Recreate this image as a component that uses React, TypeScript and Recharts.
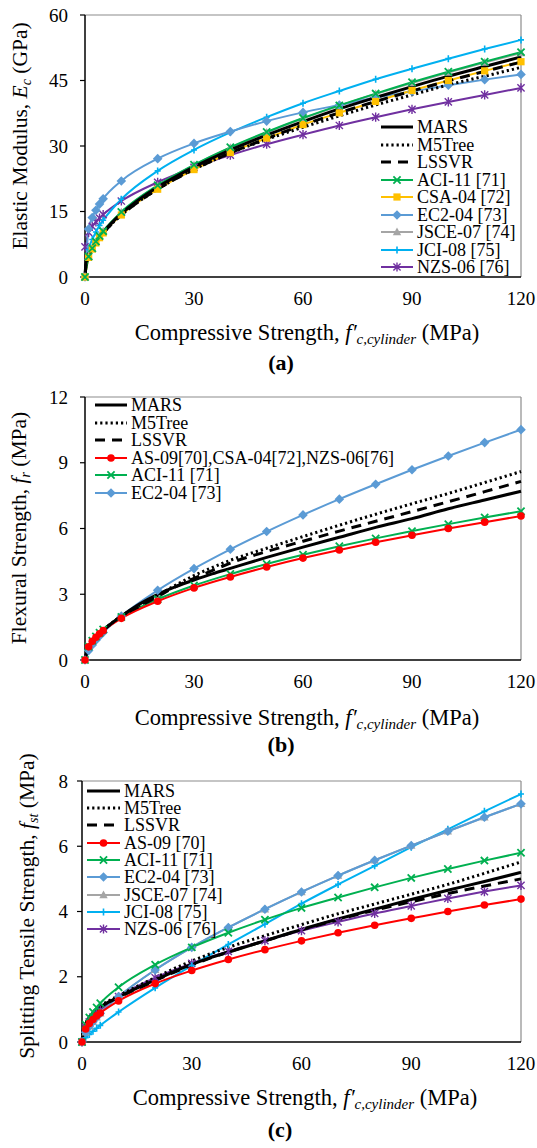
import React from "react";
import { LineChart, Line, XAxis, YAxis, ReferenceLine, Label } from "recharts";

const SERIF = '"Liberation Serif", "Times New Roman", Times, serif';

// compressive strength points (MPa)
const fcCode = [0, 1, 2, 3, 4, 5, 10, 20, 30, 40, 50, 60, 70, 80, 90, 100, 110, 120];
const fcModel = [0, 0.25, 0.5, 1, 2, 3, 5, 7.5, 10, 15, 20, 25, 30, 35, 40, 50, 60, 70, 80, 90, 100, 110, 120];
const xTicks = [0, 30, 60, 90, 120];

// (a) elastic modulus, GPa
const ecTicks = [0, 15, 30, 45, 60];
const ecMARS = [0, 3.2, 4.2, 5.3, 6.9, 8.1, 10.2, 12.5, 14.5, 17.8, 20.6, 23.0, 25.2, 27.2, 29.1, 32.5, 35.6, 38.5, 41.1, 43.6, 46.0, 48.2, 50.4];
const ecM5Tree = [0, 2.6, 3.6, 4.8, 6.5, 7.8, 10.0, 12.3, 14.2, 17.4, 20.1, 22.6, 24.7, 26.6, 28.4, 31.5, 34.3, 36.9, 39.4, 41.7, 44.0, 46.0, 48.0];
const ecLSSVR = [0, 2.5, 3.5, 4.7, 6.4, 7.8, 10.0, 12.3, 14.2, 17.4, 20.1, 22.5, 24.6, 26.6, 28.4, 31.7, 34.8, 37.6, 40.2, 42.6, 44.9, 47.1, 49.2];
const ecACI = [0, 4.7, 6.6, 8.1, 9.4, 10.5, 14.9, 21.0, 25.7, 29.7, 33.2, 36.4, 39.3, 42.0, 44.6, 47.0, 49.3, 51.5];
const ecCSA = [0, 4.5, 6.4, 7.8, 9.0, 10.1, 14.2, 20.1, 24.6, 28.5, 31.8, 34.9, 37.6, 40.2, 42.7, 45.0, 47.2, 49.3];
const ecEC2 = [0, 11.0, 13.6, 15.3, 16.7, 17.9, 22.0, 27.1, 30.6, 33.3, 35.7, 37.7, 39.4, 41.1, 42.5, 43.9, 45.2, 46.4];
const ecJSCE = [0, 4.7, 6.6, 8.1, 9.4, 10.5, 14.8, 20.9, 25.6, 29.6, 33.1, 36.3, 39.2, 41.9, 44.4, 46.8, 49.1, 51.3];
const ecJCI = [0, 6.3, 8.6, 10.3, 11.8, 13.0, 17.8, 24.3, 29.1, 33.1, 36.6, 39.8, 42.6, 45.3, 47.7, 50.0, 52.2, 54.3];
const ecNZS = [6.9, 10.2, 11.6, 12.6, 13.5, 14.3, 17.4, 21.7, 25.1, 27.9, 30.4, 32.6, 34.7, 36.6, 38.4, 40.1, 41.7, 43.3];

// (b) flexural strength, MPa
const frTicks = [0, 3, 6, 9, 12];
const frMARS = [0, 0.2, 0.33, 0.5, 0.78, 1.0, 1.35, 1.7, 2.0, 2.55, 3.0, 3.35, 3.65, 3.93, 4.18, 4.68, 5.15, 5.6, 6.05, 6.45, 6.9, 7.3, 7.7];
const frM5Tree = [0, 0.2, 0.33, 0.5, 0.78, 1.0, 1.35, 1.7, 2.0, 2.5, 2.95, 3.42, 3.85, 4.22, 4.55, 5.1, 5.63, 6.15, 6.65, 7.13, 7.6, 8.1, 8.6];
const frLSSVR = [0, 0.2, 0.33, 0.5, 0.78, 1.0, 1.35, 1.7, 2.0, 2.45, 2.9, 3.35, 3.72, 4.08, 4.42, 4.95, 5.42, 5.88, 6.33, 6.77, 7.22, 7.68, 8.15];
const frAS = [0, 0.6, 0.85, 1.04, 1.2, 1.34, 1.9, 2.68, 3.29, 3.79, 4.24, 4.65, 5.02, 5.37, 5.69, 6.0, 6.29, 6.57];
const frACI = [0, 0.62, 0.88, 1.07, 1.24, 1.39, 1.96, 2.77, 3.4, 3.92, 4.38, 4.8, 5.19, 5.55, 5.88, 6.2, 6.5, 6.79];
const frEC2 = [0, 0.43, 0.69, 0.9, 1.09, 1.26, 2.0, 3.18, 4.17, 5.05, 5.86, 6.62, 7.34, 8.02, 8.68, 9.31, 9.92, 10.51];

// (c) splitting tensile strength, MPa
const fstTicks = [0, 2, 4, 6, 8];
const fstMARS = [0, 0.28, 0.4, 0.55, 0.75, 0.88, 1.07, 1.24, 1.38, 1.65, 1.9, 2.15, 2.38, 2.58, 2.75, 3.1, 3.45, 3.77, 4.07, 4.37, 4.65, 4.92, 5.2];
const fstM5Tree = [0, 0.3, 0.42, 0.57, 0.77, 0.9, 1.1, 1.27, 1.42, 1.7, 1.97, 2.24, 2.48, 2.7, 2.9, 3.26, 3.6, 3.93, 4.23, 4.53, 4.83, 5.17, 5.52];
const fstLSSVR = [0, 0.27, 0.4, 0.55, 0.75, 0.88, 1.06, 1.23, 1.37, 1.63, 1.88, 2.13, 2.36, 2.57, 2.76, 3.1, 3.44, 3.75, 4.04, 4.3, 4.55, 4.78, 5.0];
const fstAS = [0, 0.4, 0.57, 0.69, 0.8, 0.89, 1.26, 1.79, 2.19, 2.53, 2.83, 3.1, 3.35, 3.58, 3.79, 4.0, 4.2, 4.38];
const fstACI = [0, 0.53, 0.75, 0.92, 1.06, 1.19, 1.68, 2.37, 2.9, 3.35, 3.75, 4.11, 4.43, 4.74, 5.03, 5.3, 5.56, 5.8];
const fstEC2 = [0, 0.3, 0.48, 0.62, 0.76, 0.88, 1.39, 2.21, 2.9, 3.51, 4.07, 4.6, 5.1, 5.57, 6.02, 6.46, 6.89, 7.3];
const fstJSCE = [0, 0.3, 0.48, 0.62, 0.76, 0.88, 1.39, 2.21, 2.9, 3.51, 4.07, 4.6, 5.1, 5.57, 6.02, 6.46, 6.89, 7.3];
const fstJCI = [0, 0.13, 0.23, 0.33, 0.42, 0.51, 0.92, 1.66, 2.34, 2.99, 3.61, 4.24, 4.83, 5.4, 5.97, 6.52, 7.07, 7.6];
const fstNZS = [0, 0.44, 0.62, 0.76, 0.88, 0.98, 1.39, 1.97, 2.41, 2.78, 3.11, 3.41, 3.68, 3.94, 4.17, 4.4, 4.61, 4.8];

type Shape = "x" | "square" | "diamond" | "triangle" | "plus" | "star" | "circle";
type Series = { name: string; xs: number[]; ys: number[]; color: string; shape?: Shape; dash?: string; width: number };

const GREEN = "#00B050";
const YELLOW = "#FFC000";
const BLUE = "#5B9BD5";
const GREY = "#A5A5A5";
const CYAN = "#00B0F0";
const PURPLE = "#7030A0";
const RED = "#FF0000";

const models = (mars: number[], m5: number[], ls: number[]): Series[] => [
  { name: "MARS", xs: fcModel, ys: mars, color: "#000", width: 3 },
  { name: "M5Tree", xs: fcModel, ys: m5, color: "#000", width: 3, dash: "2.2 3" },
  { name: "LSSVR", xs: fcModel, ys: ls, color: "#000", width: 3, dash: "10 7" },
];

const seriesA: Series[] = [
  ...models(ecMARS, ecM5Tree, ecLSSVR),
  { name: "ACI-11 [71]", xs: fcCode, ys: ecACI, color: GREEN, shape: "x", width: 2 },
  { name: "CSA-04 [72]", xs: fcCode, ys: ecCSA, color: YELLOW, shape: "square", width: 2 },
  { name: "EC2-04 [73]", xs: fcCode, ys: ecEC2, color: BLUE, shape: "diamond", width: 2 },
  { name: "JSCE-07 [74]", xs: fcCode, ys: ecJSCE, color: GREY, shape: "triangle", width: 2 },
  { name: "JCI-08 [75]", xs: fcCode, ys: ecJCI, color: CYAN, shape: "plus", width: 2 },
  { name: "NZS-06 [76]", xs: fcCode, ys: ecNZS, color: PURPLE, shape: "star", width: 2 },
];

const seriesB: Series[] = [
  ...models(frMARS, frM5Tree, frLSSVR),
  { name: "AS-09[70],CSA-04[72],NZS-06[76]", xs: fcCode, ys: frAS, color: RED, shape: "circle", width: 2 },
  { name: "ACI-11 [71]", xs: fcCode, ys: frACI, color: GREEN, shape: "x", width: 2 },
  { name: "EC2-04 [73]", xs: fcCode, ys: frEC2, color: BLUE, shape: "diamond", width: 2 },
];

const seriesC: Series[] = [
  ...models(fstMARS, fstM5Tree, fstLSSVR),
  { name: "AS-09 [70]", xs: fcCode, ys: fstAS, color: RED, shape: "circle", width: 2 },
  { name: "ACI-11 [71]", xs: fcCode, ys: fstACI, color: GREEN, shape: "x", width: 2 },
  { name: "EC2-04 [73]", xs: fcCode, ys: fstEC2, color: BLUE, shape: "diamond", width: 2 },
  { name: "JSCE-07 [74]", xs: fcCode, ys: fstJSCE, color: GREY, shape: "triangle", width: 2 },
  { name: "JCI-08 [75]", xs: fcCode, ys: fstJCI, color: CYAN, shape: "plus", width: 2 },
  { name: "NZS-06 [76]", xs: fcCode, ys: fstNZS, color: PURPLE, shape: "star", width: 2 },
];

function Marker({ shape, cx, cy, color }: { shape: Shape; cx: number; cy: number; color: string }) {
  const s = 3.6;
  switch (shape) {
    case "square":
      return <rect x={cx - s} y={cy - s} width={2 * s} height={2 * s} fill={color} />;
    case "diamond":
      return <polygon points={`${cx},${cy - 4.8} ${cx + 4.8},${cy} ${cx},${cy + 4.8} ${cx - 4.8},${cy}`} fill={color} />;
    case "triangle":
      return <polygon points={`${cx},${cy - 4.5} ${cx + 4.2},${cy + 3.2} ${cx - 4.2},${cy + 3.2}`} fill={color} />;
    case "circle":
      return <circle cx={cx} cy={cy} r={3.8} fill={color} />;
    case "x":
      return (
        <path d={`M${cx - s},${cy - s}L${cx + s},${cy + s}M${cx - s},${cy + s}L${cx + s},${cy - s}`} stroke={color} strokeWidth={1.8} />
      );
    case "plus":
      return <path d={`M${cx - 3},${cy}L${cx + 3},${cy}M${cx},${cy - 3.5}L${cx},${cy + 3.5}`} stroke={color} strokeWidth={1.6} />;
    case "star":
      return (
        <path
          d={`M${cx - s},${cy - s}L${cx + s},${cy + s}M${cx - s},${cy + s}L${cx + s},${cy - s}M${cx},${cy - s - 1}L${cx},${cy + s + 1}`}
          stroke={color}
          strokeWidth={1.4}
        />
      );
  }
  return null;
}

const pts = (xs: number[], ys: number[]) => xs.map((x, i) => ({ x, y: ys[i] }));

type Title = { pre: string; sym: string; sub: string; post: string };

function LegendBox({ series, top, x1, x2, tx, y0, step }: { series: Series[]; top: number; x1: number; x2: number; tx: number; y0: number; step: number }) {
  return (
    <>
      {series.map((s, i) => {
        const cy = y0 + i * step - top;
        const w = x2 - x1;
        return (
          <React.Fragment key={s.name}>
            <svg style={{ position: "absolute", left: x1 - 4, top: cy - 8 }} width={w + 8} height={16}>
              <line x1={4} x2={w + 4} y1={8} y2={8} stroke={s.color} strokeWidth={s.width} strokeDasharray={s.dash} />
              {s.shape && <Marker shape={s.shape} cx={4 + w / 2} cy={8} color={s.color} />}
            </svg>
            <span
              style={{
                position: "absolute",
                left: tx,
                top: cy - 8,
                height: 16,
                lineHeight: "16px",
                fontSize: 18,
                fontFamily: SERIF,
                whiteSpace: "nowrap",
                color: "#000",
              }}
            >
              {s.name}
            </span>
          </React.Fragment>
        );
      })}
    </>
  );
}

type PanelProps = {
  top: number;
  height: number;
  mt: number;
  mb: number;
  yw: number;
  yMargin: number;
  yMax: number;
  yTicks: number[];
  series: Series[];
  yTitle: Title;
  yTitleX: number;
  yTitleCY: number;
  xTitleY: number;
  xTitleX: number;
  tag: string;
  tagY: number;
  tagX: number;
  legend: { x1: number; x2: number; tx: number; y0: number; step: number };
};

function Panel(p: PanelProps) {
  const codes = p.series.filter((s) => s.shape).reverse();
  const mods = p.series.filter((s) => !s.shape).reverse();
  const drawOrder = [...codes, ...mods];
  const tickStyle = { fill: "#000", fontSize: 19, fontFamily: SERIF };
  return (
    <div style={{ position: "absolute", left: 0, top: p.top, width: 537, height: p.height }}>
      <LineChart width={537} height={p.height} margin={{ top: p.mt, right: 16, bottom: p.mb, left: 0 }}>
        <XAxis
          type="number"
          dataKey="x"
          domain={[0, 120]}
          ticks={xTicks}
          height={30}
          axisLine={{ stroke: "#000", strokeWidth: 1.5 }}
          tickLine={false}
          tickSize={6}
          tickMargin={9}
          tick={tickStyle}
        >
          <Label
            content={() => (
              <g fontFamily={SERIF} fill="#000">
                <text x={p.xTitleX} y={p.xTitleY} textAnchor="middle" fontSize={22.5}>
                  Compressive Strength, <tspan fontStyle="italic">f{"\u2032"}</tspan>
                  <tspan fontStyle="italic" fontSize={15} dy={4}>c,cylinder</tspan>
                  <tspan dy={-4}> (MPa)</tspan>
                </text>
                <text x={p.tagX} y={p.tagY} textAnchor="middle" fontSize={22} fontWeight="bold">
                  ({p.tag})
                </text>
              </g>
            )}
          />
        </XAxis>
        <YAxis
          type="number"
          domain={[0, p.yMax]}
          ticks={p.yTicks}
          width={p.yw}
          axisLine={{ stroke: "#000", strokeWidth: 1.5 }}
          tickLine={{ stroke: "#000", strokeWidth: 1.2 }}
          tickSize={5}
          tickMargin={p.yMargin}
          tick={tickStyle}
        >
          <Label
            content={() => (
              <text
                transform={`translate(${p.yTitleX},${p.yTitleCY}) rotate(-90)`}
                textAnchor="middle"
                fontFamily={SERIF}
                fontSize={21.5}
                fill="#000"
              >
                {p.yTitle.pre}
                <tspan fontStyle="italic">{p.yTitle.sym}</tspan>
                <tspan fontStyle="italic" fontSize={14} dy={4}>{p.yTitle.sub}</tspan>
                <tspan dy={-4}>{p.yTitle.post}</tspan>
              </text>
            )}
          />
        </YAxis>
        <ReferenceLine x={120} stroke="#8c8c8c" strokeWidth={1.2} />
        <ReferenceLine y={p.yMax} stroke="#8c8c8c" strokeWidth={1.2} />
        {drawOrder.map((s) => (
          <Line
            key={s.name}
            name={s.name}
            data={pts(s.xs, s.ys)}
            dataKey="y"
            type="monotone"
            stroke={s.color}
            strokeWidth={s.width}
            strokeDasharray={s.dash}
            dot={
              s.shape
                ? (d: any) => <Marker key={`${s.name}-${d.index}`} shape={s.shape as Shape} cx={d.cx} cy={d.cy} color={s.color} />
                : false
            }
            activeDot={false}
            isAnimationActive={false}
          />
        ))}
      </LineChart>
      <LegendBox series={p.series} top={p.top} {...p.legend} />
    </div>
  );
}

export default function App() {
  return (
    <div style={{ position: "absolute", left: 0, top: 0, width: 537, height: 1148, background: "#fff" }}>
      <Panel
        top={0}
        height={380}
        mt={15}
        mb={73}
        yw={85}
        yMargin={12}
        yMax={60}
        yTicks={ecTicks}
        series={seriesA}
        yTitle={{ pre: "Elastic Modulus, ", sym: "E", sub: "c", post: " (GPa)" }}
        yTitleX={27}
        yTitleCY={136}
        xTitleX={307}
        xTitleY={340}
        tag="a"
        tagX={281}
        tagY={370}
        legend={{ x1: 381, x2: 413, tx: 417, y0: 127, step: 17.5 }}
      />
      <Panel
        top={380}
        height={380}
        mt={17}
        mb={70}
        yw={85}
        yMargin={12}
        yMax={12}
        yTicks={frTicks}
        series={seriesB}
        yTitle={{ pre: "Flexural Strength,  ", sym: "f", sub: "r", post: " (MPa)" }}
        yTitleX={26}
        yTitleCY={148}
        xTitleX={307}
        xTitleY={345}
        tag="b"
        tagX={281}
        tagY={372}
        legend={{ x1: 95, x2: 127, tx: 131, y0: 405, step: 17.5 }}
      />
      <Panel
        top={740}
        height={408}
        mt={41}
        mb={76}
        yw={82}
        yMargin={9}
        yMax={8}
        yTicks={fstTicks}
        series={seriesC}
        yTitle={{ pre: "Splitting Tensile Strength, ", sym: "f", sub: "st", post: " (MPa)" }}
        yTitleX={34}
        yTitleCY={166}
        xTitleX={305}
        xTitleY={365}
        tag="c"
        tagX={280}
        tagY={397}
        legend={{ x1: 87, x2: 120, tx: 124, y0: 790.7, step: 17.3 }}
      />
    </div>
  );
}
